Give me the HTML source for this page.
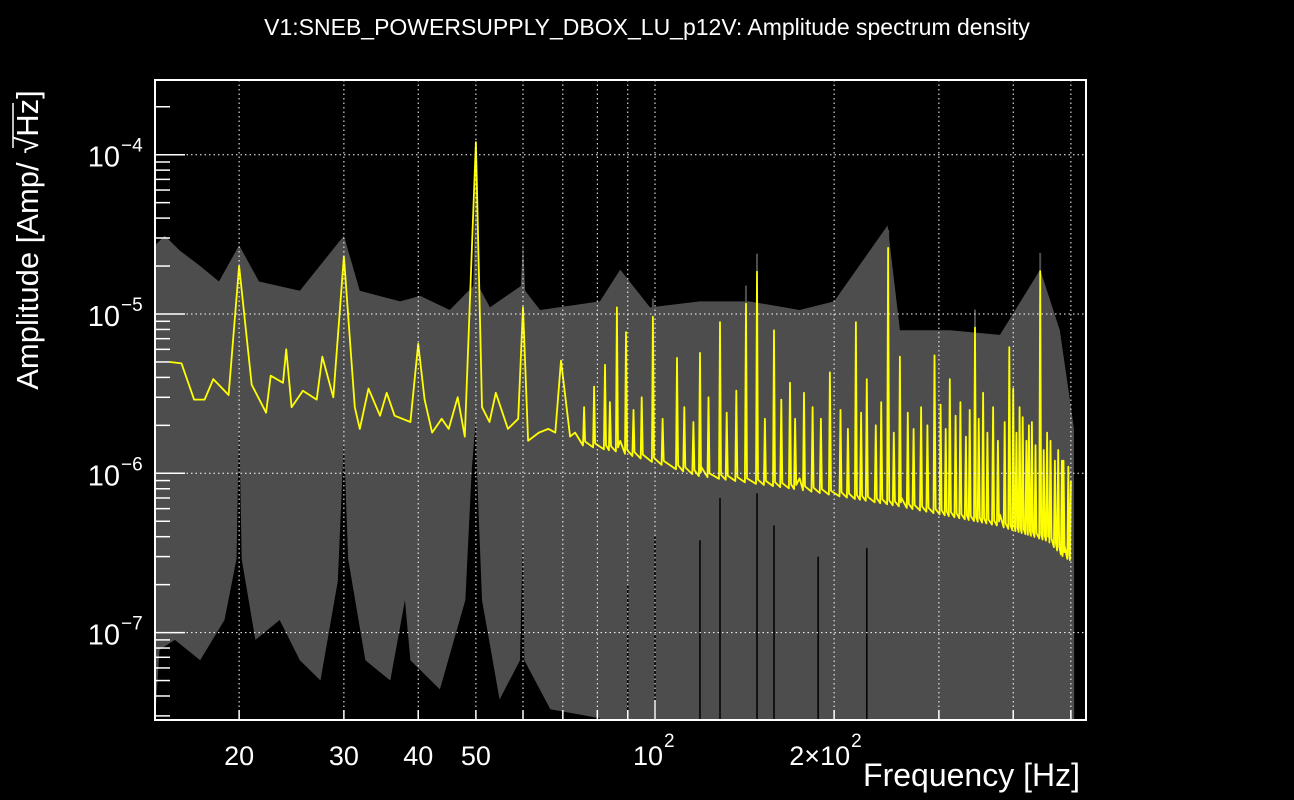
<!DOCTYPE html>
<html><head><meta charset="utf-8"><style>
html,body{margin:0;padding:0;background:#000;width:1294px;height:800px;overflow:hidden}
svg{display:block;overflow:hidden}
text{font-family:"Liberation Sans",sans-serif;fill:#fff}
</style></head><body>
<svg id="chart" width="1294" height="800" viewBox="0 0 1294 800">
<defs><clipPath id="clip"><rect x="155" y="80" width="931" height="640"/></clipPath></defs>
<text x="647" y="35" font-size="23" text-anchor="middle">V1:SNEB_POWERSUPPLY_DBOX_LU_p12V: Amplitude spectrum density</text>
<g id="plot" clip-path="url(#clip)"></g>
<g id="grid"></g>
<g id="axes"></g>
<text x="1080" y="786" font-size="32" text-anchor="end">Frequency [Hz]</text>
<g transform="translate(38,240) rotate(-90)">
<text x="0" y="0" font-size="31" text-anchor="middle">Amplitude [Amp/ √Hz]</text>
<line x1="92" y1="-25" x2="137" y2="-25" stroke="#fff" stroke-width="1.5"/>
</g>
</svg>
<script>
// ---- data ----
const yellowLeftF=[15.3,16.0,16.8,17.5,18.1,19.2,20,21,22.2,22.6,23.7,24,24.5,25.6,27,27.6,28.8,30,31.3,31.9,33,34.5,35.4,36.5,38.8,40,41,42.2,43.8,45,46.6,47.9,50,51.2,52.7,54,56.6,58.9,60,61.2,63.8,66.2,68,69.5,72];
const yellowLeftA=[5e-6,4.9e-6,2.9e-6,2.9e-6,3.9e-6,3.1e-6,2.0e-5,3.6e-6,2.4e-6,4.1e-6,3.7e-6,6e-6,2.6e-6,3.3e-6,2.9e-6,5.4e-6,3.0e-6,2.3e-5,2.6e-6,1.9e-6,3.4e-6,2.3e-6,3.2e-6,2.3e-6,2.1e-6,6.5e-6,2.9e-6,1.8e-6,2.2e-6,1.9e-6,3e-6,1.7e-6,1.2e-4,2.6e-6,2.1e-6,3.2e-6,1.9e-6,2.2e-6,1.1e-5,1.6e-6,1.8e-6,1.9e-6,1.8e-6,5.1e-6,1.7e-6];
const baseF=[73.4,87.4,119,175,258,380,460,488,505];
const baseA=[1.8e-6,1.6e-6,1.13e-6,9.3e-7,7.3e-7,5.5e-7,4.4e-7,3.5e-7,3.3e-7];
const peakF=[82.4,86.3,89.4,99.2,108.9,119,128.6,142.2,148.4,158.5,168.6,178,196.8,217.6,227,246.5,258,295,313,326,345,356,394,400,415,430,444,456,483];
const peakA=[4.8e-6,1.1e-5,7.7e-6,9.6e-6,5.3e-6,5.7e-6,8.9e-6,1.16e-5,1.84e-5,7.9e-6,3.7e-6,3.2e-6,4.3e-6,8.9e-6,3.9e-6,2.6e-5,5.4e-6,5.5e-6,3.9e-6,2.8e-6,8.2e-6,3.2e-6,6.2e-6,3.4e-6,2.25e-6,2.1e-6,1.86e-5,1.8e-6,1.2e-6];
const miniF=[76,79,84,92,95,103,112,116,123,132,137,153,163,172,184,190,205,211,222,235,240,252,266,272,280,287,302,308,320,333,338,350,362,370,377,387,405,410,421,425,436,450,462,470,476,486,495,500];
const miniA=[2.6e-6,3.5e-6,2.8e-6,2.5e-6,3.0e-6,2.2e-6,2.6e-6,2.1e-6,3e-6,2.4e-6,3.3e-6,2.2e-6,2.9e-6,2.2e-6,2.6e-6,2.2e-6,2.5e-6,1.9e-6,2.4e-6,2.0e-6,2.8e-6,1.8e-6,2.4e-6,1.9e-6,2.6e-6,2.0e-6,2.7e-6,1.9e-6,2.3e-6,1.7e-6,2.5e-6,2.2e-6,1.8e-6,2.6e-6,1.6e-6,2.1e-6,1.8e-6,2.6e-6,1.6e-6,2.0e-6,1.5e-6,1.4e-6,1.6e-6,1.2e-6,1.4e-6,1.2e-6,1.1e-6,9e-7];
const grayTopF=[14.45,15.0,15.9,17.2,18.5,20,21.6,25.3,30,31.9,37.3,40.3,45.2,49.5,50,50.5,52.8,59.5,60,60.5,64.1,80.8,87.4,98.1,119,144,175,200,246,258,313,380,444,479,498,506,506.5];
const grayTopA=[2.7e-5,3.1e-5,2.5e-5,2.0e-5,1.6e-5,2.7e-5,1.6e-5,1.4e-5,3.1e-5,1.4e-5,1.2e-5,1.3e-5,1.06e-5,1.5e-5,1.3e-4,1.5e-5,1.1e-5,1.5e-5,2.9e-5,1.4e-5,1.06e-5,1.2e-5,1.9e-5,1.1e-5,1.2e-5,1.2e-5,1.06e-5,1.2e-5,3.6e-5,7.9e-6,7.9e-6,7.4e-6,1.9e-5,7.9e-6,2.9e-6,1.9e-6,1e-9];
const blackF=[14.45,14.7,15.6,17.2,18.9,19.8,20,20.2,21.3,23.4,25.3,27.4,29.3,30,30.5,32.6,35.9,38.0,38.8,43.5,48.0,49.2,50,50.2,51.2,54.8,59.3,60,60.3,66.7,80.8];
const blackA=[2.9e-8,7.8e-8,9.0e-8,6.7e-8,1.2e-7,2.9e-7,2.2e-6,2.9e-7,9.0e-8,1.2e-7,6.7e-8,5.0e-8,2.1e-7,1.6e-6,2.9e-7,6.7e-8,5.0e-8,1.6e-7,6.7e-8,4.4e-8,1.6e-7,1.05e-6,2.2e-6,1.05e-6,1.6e-7,3.8e-8,6.7e-8,4.4e-7,6.7e-8,3.3e-8,2.9e-8];
const blackLineF=[119,128.6,148.4,158.5,188,227,100,90];
const blackLineA=[3.8e-7,7e-7,7.5e-7,4.7e-7,3.0e-7,3.4e-7,4e-7,2e-7];
const xTickVals=[20,30,40,50,100,200];
const xTickLabels=["20","30","40","50","10|2","2×10|2"];
const yTickExp=[-4,-5,-6,-7];

// ---- axes ----
const X0=155,X1=1086,Y0=80,Y1=720;
const xs=f=>655+595*(Math.log10(f)-2);
const ys=a=>314-159.3*(Math.log10(a)+5);
const NS='http://www.w3.org/2000/svg';
function mk(tag,attrs,parent){const e=document.createElementNS(NS,tag);for(const k in attrs)e.setAttribute(k,attrs[k]);parent.appendChild(e);return e;}
const plot=document.getElementById('plot'),grid=document.getElementById('grid'),axes=document.getElementById('axes');
const bottom=Y1+2;

// gray band
let d=`M${xs(14.45)},${bottom}`;
grayTopF.forEach((f,i)=>{d+=` L${xs(f)},${Math.min(bottom,ys(grayTopA[i]))}`;});
d+=` L${xs(506.5)},${bottom} Z`;
const gp=mk('path',{d:d,fill:'#4d4d4d'},plot);



// gray spikes at yellow peaks
peakF.forEach((f,i)=>{
  const l=mk('line',{x1:xs(f),x2:xs(f),y1:ys(peakA[i]*1.3),y2:ys(peakA[i]),stroke:'#4d4d4d','stroke-width':2},plot);
  
  
});

// black lower region
let bd=`M${xs(14.45)},${bottom}`;
blackF.forEach((f,i)=>{bd+=` L${xs(f)},${Math.min(bottom,ys(blackA[i]))}`;});
bd+=` L${xs(80.8)},${bottom} Z`;
const bp=mk('path',{d:bd,fill:'#000'},plot);


blackLineF.forEach((f,i)=>{
  const l=mk('line',{x1:xs(f),x2:xs(f),y1:ys(blackLineA[i]),y2:bottom,stroke:'#000','stroke-width':1.5},plot);
  
  
});

// yellow series
function baseAt(f){
  for(let i=0;i<baseF.length-1;i++){
    if(f>=baseF[i]&&f<=baseF[i+1]){
      const t=(Math.log(f)-Math.log(baseF[i]))/(Math.log(baseF[i+1])-Math.log(baseF[i]));
      return Math.exp(Math.log(baseA[i])+t*(Math.log(baseA[i+1])-Math.log(baseA[i])));
    }
  }
  return baseA[baseA.length-1];
}
let pts=yellowLeftF.map((f,i)=>[f,yellowLeftA[i]]);
let right=[];
peakF.forEach((f,i)=>right.push([f,peakA[i],1]));
miniF.forEach((f,i)=>right.push([f,miniA[i],1]));
baseF.forEach((f,i)=>right.push([f,baseA[i],0]));
right.sort((a,b)=>a[0]-b[0]);
right.forEach(p=>{
  if(p[2]){const b=baseAt(p[0]);pts.push([p[0]*0.996,b*0.85]);pts.push([p[0],p[1]]);pts.push([p[0]*1.004,b*0.9]);}
  else pts.push([p[0],p[1]]);
});
pts=pts.filter(p=>p[0]<=500);
const yd=pts.map((p,i)=>(i?'L':'M')+xs(p[0]).toFixed(1)+','+ys(p[1]).toFixed(1)).join(' ');
const yl=mk('path',{d:yd,fill:'none',stroke:'#ffff00','stroke-width':1.8,'stroke-linejoin':'round'},plot);



// grid
[20,30,40,50,60,70,80,90,100,200,300,400,500].forEach(f=>{
  const l=mk('line',{x1:xs(f),x2:xs(f),y1:Y0,y2:Y1,stroke:'#fff','stroke-width':1,'stroke-dasharray':'1.5,3'},grid);
  
  
});
yTickExp.forEach(e=>{
  const l=mk('line',{x1:X0,x2:X1,y1:ys(Math.pow(10,e)),y2:ys(Math.pow(10,e)),stroke:'#fff','stroke-width':1,'stroke-dasharray':'1.5,3'},grid);
  
  
});

// frame
const fr=mk('rect',{x:X0,y:Y0,width:X1-X0,height:Y1-Y0,fill:'none',stroke:'#fff','stroke-width':2},axes);



// y ticks
for(let e=-8;e<=-4;e++){
  for(let m=1;m<=9;m++){
    const a=m*Math.pow(10,e),y=ys(a);
    if(y<Y0||y>Y1)continue;
    const t=mk('line',{x1:X0,x2:X0+(m===1?30:15),y1:y,y2:y,stroke:'#fff','stroke-width':1.5},axes);
    
    
  }
}
yTickExp.forEach(e=>{
  const y=ys(Math.pow(10,e));
  const t=mk('text',{x:120,y:y+12,'font-size':29,'text-anchor':'end'},axes);
  t.textContent='10';
  
  
  const s=mk('text',{x:121,y:y-3,'font-size':19},axes);
  s.textContent='−'+(-e);
  
  
});

// x ticks
for(let dec=1;dec<=2;dec++){
  for(let m=1;m<=9;m++){
    const f=m*Math.pow(10,dec),x=xs(f);
    if(x<X0||x>X1)continue;
    const big=(f===100);
    const t=mk('line',{x1:x,x2:x,y1:Y1,y2:Y1-(big?20:10),stroke:'#fff','stroke-width':1.5},axes);
    
    
  }
}
xTickVals.forEach((f,i)=>{
  const parts=xTickLabels[i].split('|');
  const x=xs(f);
  const t=mk('text',{x:x,y:765,'font-size':27,'text-anchor':parts.length>1?'end':'middle'},axes);
  t.textContent=parts[0];
  if(parts.length>1){t.setAttribute('x',x+(f===100?8:16));}
  
  
  if(parts.length>1){
    const s=mk('text',{x:x+(f===100?9:17),y:747,'font-size':19},axes);
    s.textContent=parts[1];
    
    
  }
});
</script>
</body></html>
